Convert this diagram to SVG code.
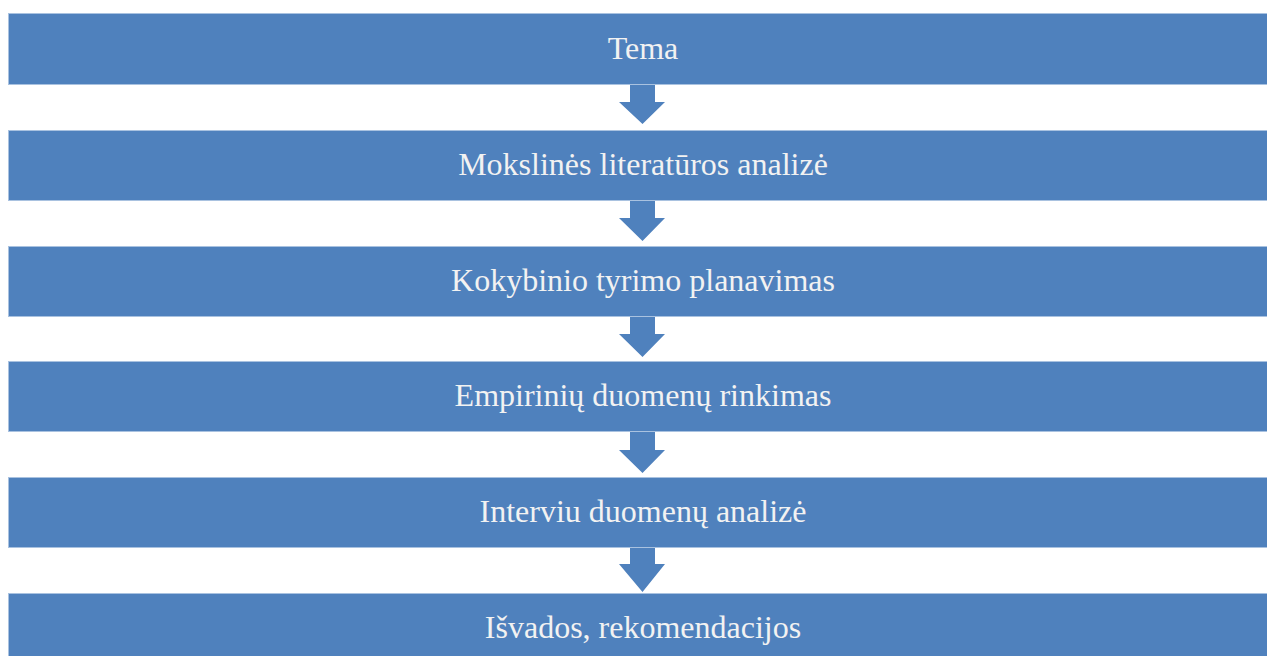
<svg xmlns="http://www.w3.org/2000/svg" width="1267" height="656" viewBox="0 0 1267 656">
<style>
.box{fill:#4F81BD;stroke:#A9C2E0;stroke-width:1}
.lbl{font-family:"Liberation Serif","Times New Roman",serif;font-size:32px;fill:#F2F2F2;text-anchor:middle;dominant-baseline:central}
.arr{fill:#4F81BD}
</style>
<rect width="1267" height="656" fill="#FFFFFF"/>
<g id="connectors">
<polygon class="arr" points="630,85 655,85 655,102 665,102 642.5,124 619,102 630,102"/>
<polygon class="arr" points="630,200 655,200 655,218 665,218 642.5,241 619,218 630,218"/>
<polygon class="arr" points="630,316 655,316 655,334 665,334 642.5,357 619,334 630,334"/>
<polygon class="arr" points="630,432 655,432 655,450 665,450 642.5,473 619,450 630,450"/>
<polygon class="arr" points="630,547 655,547 655,564 665,564 642.5,592 619,564 630,564"/>
</g>
<g id="n1"><rect class="box" x="8.5" y="13.5" width="1270" height="71"/><text class="lbl" x="643" y="48">Tema</text></g>
<g id="n2"><rect class="box" x="8.5" y="130.5" width="1270" height="70"/><text class="lbl" x="643" y="164">Mokslinės literatūros analizė</text></g>
<g id="n3"><rect class="box" x="8.5" y="246.5" width="1270" height="70"/><text class="lbl" x="643" y="280">Kokybinio tyrimo planavimas</text></g>
<g id="n4"><rect class="box" x="8.5" y="361.5" width="1270" height="70"/><text class="lbl" x="643" y="395">Empirinių  duomenų rinkimas</text></g>
<g id="n5"><rect class="box" x="8.5" y="477.5" width="1270" height="70"/><text class="lbl" x="643" y="511">Interviu duomenų analizė</text></g>
<g id="n6"><rect class="box" x="8.5" y="593.5" width="1270" height="70"/><text class="lbl" x="643" y="627">Išvados, rekomendacijos</text></g>
</svg>
